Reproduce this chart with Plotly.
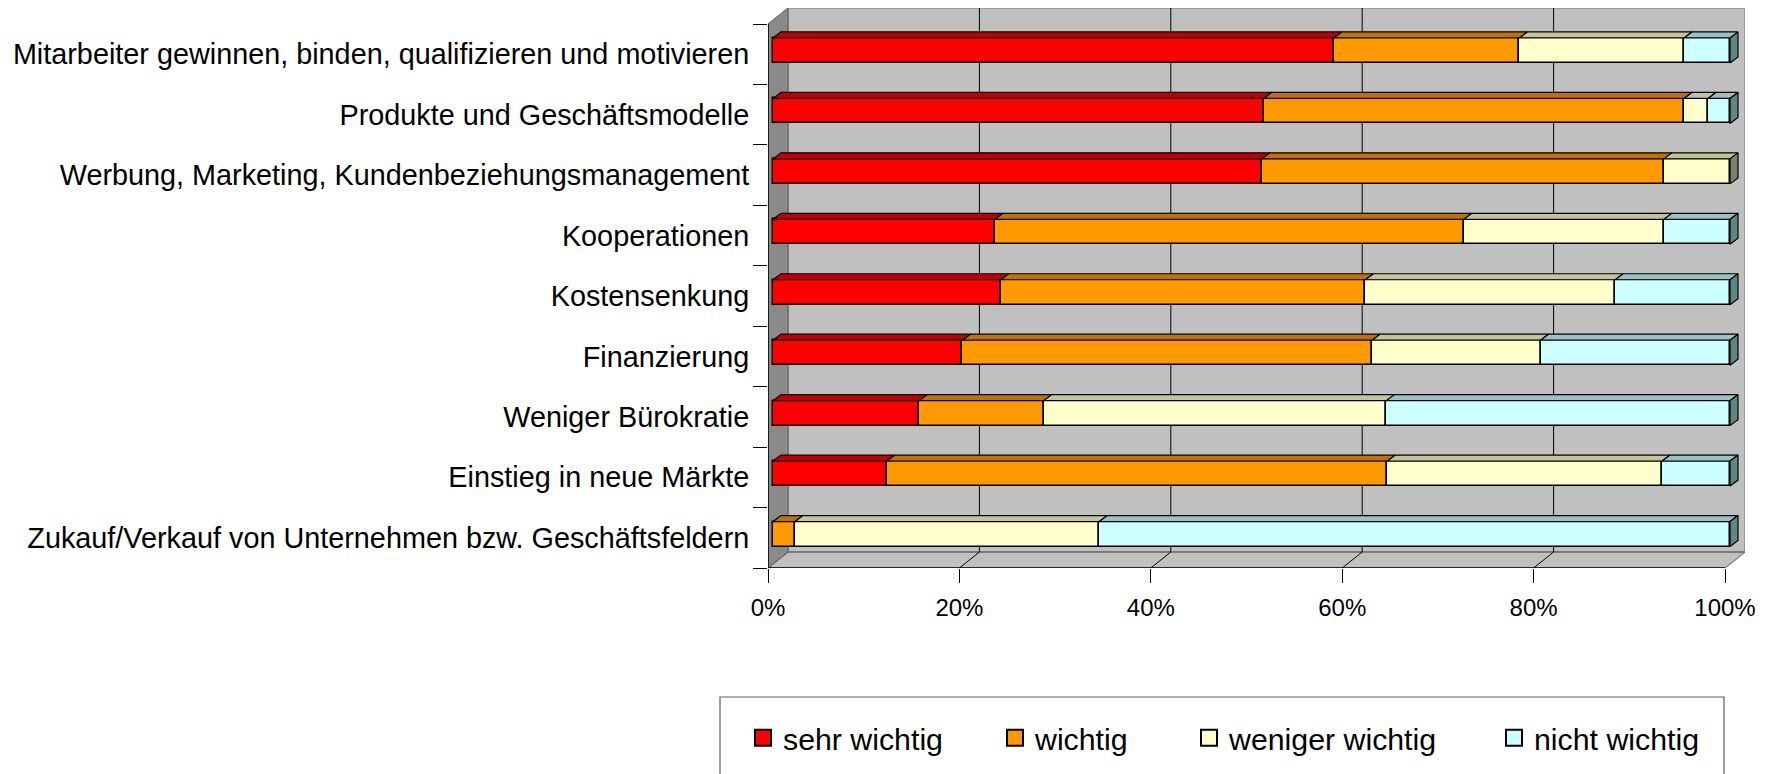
import plotly.graph_objects as go

# ---------------- data ----------------
categories = [
    "Mitarbeiter gewinnen, binden, qualifizieren und motivieren",
    "Produkte und Geschäftsmodelle",
    "Werbung, Marketing, Kundenbeziehungsmanagement",
    "Kooperationen",
    "Kostensenkung",
    "Finanzierung",
    "Weniger Bürokratie",
    "Einstieg in neue Märkte",
    "Zukauf/Verkauf von Unternehmen bzw. Geschäftsfeldern",
]
sehr_wichtig = [58.6, 51.3, 51.1, 23.2, 23.8, 19.8, 15.3, 11.9, 0.0]
wichtig = [19.4, 43.9, 42.0, 49.0, 38.1, 42.8, 13.0, 52.3, 2.3]
weniger_wichtig = [17.2, 2.5, 6.9, 20.9, 26.1, 17.6, 35.8, 28.7, 31.8]
nicht_wichtig = [4.8, 2.3, 0.0, 6.9, 12.0, 19.8, 35.9, 7.1, 65.9]
series_names = ["sehr wichtig", "wichtig", "weniger wichtig", "nicht wichtig"]
x_tick_values = [0, 20, 40, 60, 80, 100]
x_tick_labels = ["0%", "20%", "40%", "60%", "80%", "100%"]

series_values = [sehr_wichtig, wichtig, weniger_wichtig, nicht_wichtig]

# ---------------- style ----------------
FONT = "Liberation Sans, Arial, sans-serif"
front_colors = ["#FF0000", "#FF9900", "#FFFFCC", "#CCFFFF"]
top_colors = ["#C00000", "#C07300", "#C4C49C", "#99C2C2"]
side_colors = ["#800000", "#804D00", "#80806A", "#5F8585"]

W, H = 1773, 774
ML, MR, MT, MB = 768, 28, 8, 206
PX_X = 957 / 100.0           # pixels per percent (front plane)
PX_Y = 544 / 9.0             # pixels per category (front plane)
X_MAX = (W - ML - MR) / PX_X
Y_MIN = -0.5
Y_MAX = -0.5 + (H - MT - MB) / PX_Y
WALL_DX, WALL_DY = 20 / PX_X, 16 / PX_Y
BAR_X0, BAR_Y0 = 5 / PX_X, 3.75 / PX_Y
BAR_H = 25 / PX_Y
BAR_DX, BAR_DY = 8 / PX_X, 6 / PX_Y

n = len(categories)
centers = [n - 1 - i for i in range(n)]   # first category on top

fig = go.Figure()

# ---------------- 3D walls (shapes below traces) ----------------
shapes = []
floor_y = Y_MIN
back_floor_y = Y_MIN + WALL_DY
top_front = n - 0.5
shapes.append(dict(type="rect", xref="x", yref="y", layer="below",
                   x0=WALL_DX, x1=100 + WALL_DX, y0=back_floor_y, y1=Y_MAX,
                   fillcolor="#C0C0C0", line=dict(color="#8C8C8C", width=1.5)))
shapes.append(dict(type="path", xref="x", yref="y", layer="below",
                   path=f"M0,{floor_y} L100,{floor_y} L{100 + WALL_DX},{back_floor_y} L{WALL_DX},{back_floor_y} Z",
                   fillcolor="#C0C0C0", line=dict(color="#8C8C8C", width=1.5)))
shapes.append(dict(type="path", xref="x", yref="y", layer="below",
                   path=f"M0,{floor_y} L0,{top_front} L{WALL_DX},{Y_MAX} L{WALL_DX},{back_floor_y} Z",
                   fillcolor="#8A8A8A", line=dict(color="#5A5A5A", width=1)))
shapes.append(dict(type="line", xref="x", yref="y", layer="below",
                   x0=WALL_DX, x1=100 + WALL_DX, y0=back_floor_y, y1=back_floor_y,
                   line=dict(color="#707070", width=1.5)))
for v in x_tick_values[1:-1]:
    shapes.append(dict(type="line", xref="x", yref="y", layer="below",
                       x0=v + WALL_DX, x1=v + WALL_DX, y0=back_floor_y, y1=Y_MAX,
                       line=dict(color="#000000", width=1)))
    shapes.append(dict(type="line", xref="x", yref="y", layer="below",
                       x0=v, x1=v + WALL_DX, y0=floor_y, y1=back_floor_y,
                       line=dict(color="#000000", width=1)))
# axis lines
shapes.append(dict(type="line", xref="x", yref="y", layer="below",
                   x0=0, x1=100, y0=floor_y, y1=floor_y, line=dict(color="#000000", width=1.5)))
shapes.append(dict(type="line", xref="x", yref="y", layer="below",
                   x0=0, x1=0, y0=floor_y, y1=top_front, line=dict(color="#000000", width=1.5)))

# legend frame
def px2paper_x(px):
    return (px - ML) / (W - ML - MR)

def px2paper_y(py):
    return (H - MB - py) / (H - MT - MB)

shapes.append(dict(type="rect", xref="paper", yref="paper",
                   x0=px2paper_x(720), x1=px2paper_x(1724), y0=px2paper_y(697), y1=px2paper_y(800),
                   fillcolor="rgba(0,0,0,0)", line=dict(color="#606060", width=1.2)))

# ---------------- bars ----------------
cum = [0.0] * n
top_polys = [([], []) for _ in series_values]
for k, vals in enumerate(series_values):
    ys, xs, bases = [], [], []
    for i, v in enumerate(vals):
        if v > 0:
            ys.append(centers[i] + BAR_Y0)
            xs.append(v)
            bases.append(cum[i] + BAR_X0)
            a = cum[i] + BAR_X0
            b = cum[i] + v + BAR_X0
            yt = centers[i] + BAR_Y0 + BAR_H / 2
            px, py = top_polys[k]
            px += [a, b, b + BAR_DX, a + BAR_DX, a, None]
            py += [yt, yt, yt + BAR_DY, yt + BAR_DY, yt, None]
        cum[i] += v
    fig.add_trace(go.Bar(orientation="h", y=ys, x=xs, base=bases, width=BAR_H,
                         marker=dict(color=front_colors[k], line=dict(color="#000000", width=1.5)),
                         name=series_names[k], showlegend=False, hoverinfo="skip"))

for k in range(len(series_values)):
    px, py = top_polys[k]
    fig.add_trace(go.Scatter(x=px, y=py, mode="lines", fill="toself",
                             fillcolor=top_colors[k], line=dict(color="#000000", width=1.2),
                             showlegend=False, hoverinfo="skip"))

# right end faces
end_polys = [([], []) for _ in series_values]
for i in range(n):
    last = max(k for k in range(len(series_values)) if series_values[k][i] > 0)
    xe = cum[i] + BAR_X0
    yb = centers[i] + BAR_Y0 - BAR_H / 2
    yt = centers[i] + BAR_Y0 + BAR_H / 2
    px, py = end_polys[last]
    px += [xe, xe, xe + BAR_DX, xe + BAR_DX, xe, None]
    py += [yb, yt, yt + BAR_DY, yb + BAR_DY, yb, None]
for k in range(len(series_values)):
    px, py = end_polys[k]
    if px:
        fig.add_trace(go.Scatter(x=px, y=py, mode="lines", fill="toself",
                                 fillcolor=side_colors[k], line=dict(color="#000000", width=1.2),
                                 showlegend=False, hoverinfo="skip"))

# ---------------- legend (one legend per entry, placed like the original) ----------------
legend_marker_px = [763, 1015, 1209, 1514]
layout_legends = {}
for k, name in enumerate(series_names):
    lg = "legend" if k == 0 else f"legend{k + 1}"
    fig.add_trace(go.Scatter(x=[None], y=[None], mode="markers", name=name, legend=lg,
                             marker=dict(symbol="square", size=16, color=front_colors[k],
                                         line=dict(color="#000000", width=2)),
                             showlegend=True, hoverinfo="skip"))
    layout_legends[lg] = dict(x=px2paper_x(legend_marker_px[k] - 20), y=px2paper_y(738),
                              xanchor="left", yanchor="middle", bgcolor="rgba(0,0,0,0)",
                              borderwidth=0, font=dict(family=FONT, size=30.3, color="#000000"))

fig.update_layout(
    width=W, height=H, autosize=False,
    margin=dict(l=ML, r=MR, t=MT, b=MB, pad=0),
    paper_bgcolor="#FFFFFF", plot_bgcolor="#FFFFFF",
    barmode="overlay", bargap=0,
    font=dict(family=FONT, color="#000000"),
    shapes=shapes,
    xaxis=dict(range=[0, X_MAX], tickmode="array", tickvals=x_tick_values, ticktext=x_tick_labels,
               ticks="outside", ticklen=14, tickcolor="#000000", tickwidth=1,
               ticklabelstandoff=4,
               showgrid=False, zeroline=False, showline=False, fixedrange=True,
               tickfont=dict(family=FONT, size=24, color="#000000")),
    yaxis=dict(range=[Y_MIN, Y_MAX], tickmode="array", tickvals=centers, ticktext=categories,
               ticks="outside", ticklen=12, tickcolor="rgba(0,0,0,0)",
               minor=dict(tickmode="array", tickvals=[c - 0.5 for c in range(n + 1)],
                          ticks="outside", ticklen=14, tickcolor="#000000", tickwidth=1, showgrid=False),
               showgrid=False, zeroline=False, showline=False, fixedrange=True,
               tickfont=dict(family=FONT, size=28.8, color="#000000")),
    **layout_legends,
)

fig.write_html("out.html", config={"displayModeBar": False},
               post_script="document.body.style.margin='0';")
